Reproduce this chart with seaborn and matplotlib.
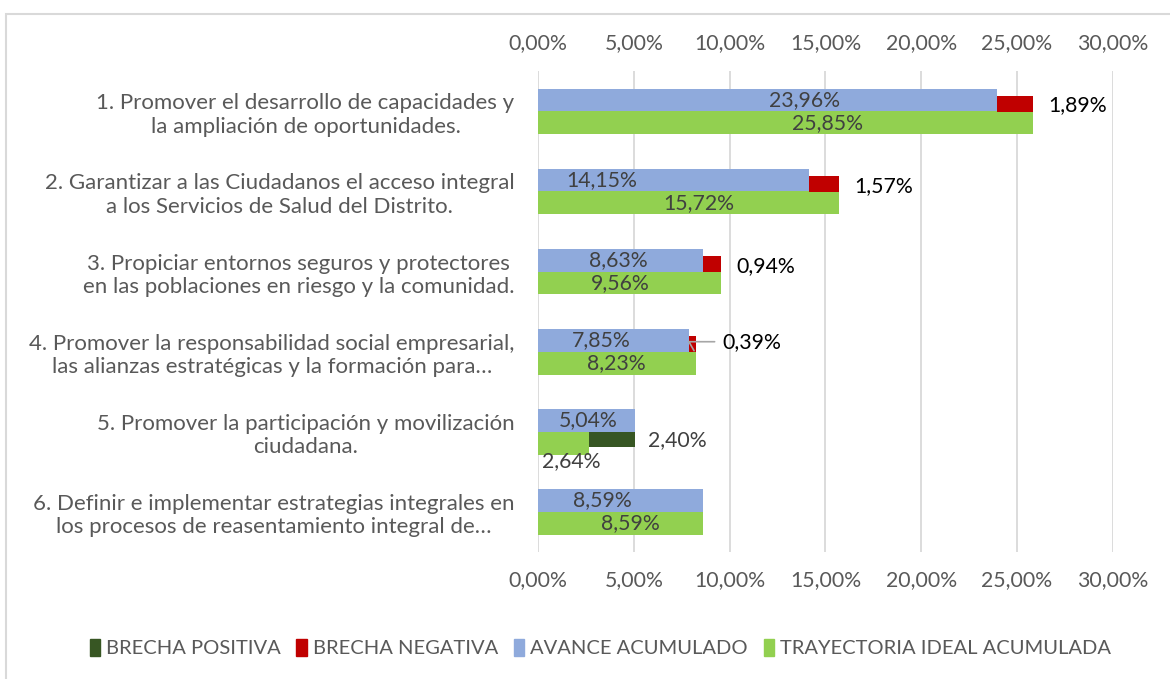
import numpy as np
import pandas as pd
import seaborn as sns
import matplotlib.pyplot as plt
from matplotlib.patches import Patch, Rectangle
from matplotlib.ticker import FuncFormatter, FixedLocator

# %% Data

lst_cat = ['1. Promover el desarrollo de capacidades y\nla ampliación de oportunidades.',
           '2. Garantizar a las Ciudadanos el acceso integral\na los Servicios de Salud del Distrito.',
           '3. Propiciar entornos seguros y protectores\nen las poblaciones en riesgo y la comunidad.',
           '4. Promover la responsabilidad social empresarial,\nlas alianzas estratégicas y la formación para…',
           '5. Promover la participación y movilización\nciudadana.',
           '6. Definir e implementar estrategias integrales en\nlos procesos de reasentamiento integral de…']

# values in percent
lst_avance = [23.96, 14.15, 8.63, 7.85, 5.04, 8.59]
lst_ideal = [25.85, 15.72, 9.56, 8.23, 2.64, 8.59]
lst_brecha_neg = [1.89, 1.57, 0.94, 0.39, 0.0, 0.0]
lst_brecha_pos = [0.0, 0.0, 0.0, 0.0, 2.40, 0.0]

lst_series = ['AVANCE ACUMULADO', 'TRAYECTORIA IDEAL ACUMULADA']

# axis ticks (percent)
lst_ticks = [0, 5, 10, 15, 20, 25, 30]

# label x positions (data units), as placed in the original chart
lst_lbl_avance_x = [13.9, 3.3, 4.2, 3.3, 2.6, 3.35]
lst_lbl_ideal_x = [15.1, 8.4, 4.3, 4.1, 1.7, 4.8]

# %% Style

c_blue = '#8faadc'
c_green = '#92d050'
c_red = '#c00000'
c_dkgreen = '#375623'
c_text = '#595959'
c_lbl = '#404040'
c_grid = '#d9d9d9'

sns.set_style('white')
plt.rcParams['font.family'] = ['Lato', 'DejaVu Sans']
fs = 15.3
fs_cat = 16

# %% Plot

df = pd.DataFrame({'cat': lst_cat * 2,
                   'valor': lst_avance + lst_ideal,
                   'serie': [lst_series[0]] * len(lst_cat) + [lst_series[1]] * len(lst_cat)})

fig = plt.figure(figsize=(11.7, 6.79), dpi=100)
ax = fig.add_axes([0.46, 0.187, 0.491, 0.708])

bar_w = 0.57
sns.barplot(data=df, y='cat', x='valor', hue='serie', hue_order=lst_series,
            palette=[c_blue, c_green], width=bar_w, orient='h', saturation=1,
            errorbar=None, legend=False, ax=ax, zorder=3, linewidth=0)

ary_y = np.arange(len(lst_cat))
y_av = ary_y - bar_w / 4
y_id = ary_y + bar_w / 4

# gaps stacked on the bars
ax.barh(y_av + 0.045, lst_brecha_neg, left=lst_avance, height=0.2,
        color=c_red, linewidth=0, zorder=3)
ax.barh(y_id - 0.045, lst_brecha_pos, left=lst_ideal, height=0.19,
        color=c_dkgreen, linewidth=0, zorder=3)

def fmt(v):
    return f'{v:.2f}'.replace('.', ',') + '%'

# data labels
for i in range(len(lst_cat)):
    ax.text(lst_lbl_avance_x[i], y_av[i], fmt(lst_avance[i]), ha='center',
            va='center', fontsize=fs, color=c_lbl, zorder=4)
    y_lbl = y_id[i] + (0.22 if lst_brecha_pos[i] > 0 else 0)
    ax.text(lst_lbl_ideal_x[i], y_lbl, fmt(lst_ideal[i]), ha='center',
            va='center', fontsize=fs, color=c_lbl, zorder=4)
    if lst_brecha_neg[i] > 0:
        x_end = lst_avance[i] + lst_brecha_neg[i]
        if lst_brecha_neg[i] < 0.5:
            ax.annotate(fmt(lst_brecha_neg[i]), xy=(x_end - 0.1, y_av[i] + 0.13),
                        xytext=(28, 9), textcoords='offset pixels',
                        ha='left', va='center', fontsize=fs, color='black',
                        arrowprops=dict(arrowstyle='-', color='#a6a6a6', lw=1.2,
                                        shrinkA=3, shrinkB=0,
                                        connectionstyle='angle,angleA=180,angleB=120,rad=0'))
        else:
            ax.annotate(fmt(lst_brecha_neg[i]), xy=(x_end, y_av[i] + 0.07),
                        xytext=(15, 0), textcoords='offset pixels',
                        ha='left', va='center', fontsize=fs, color='black')
    if lst_brecha_pos[i] > 0:
        x_end = lst_ideal[i] + lst_brecha_pos[i]
        ax.annotate(fmt(lst_brecha_pos[i]), xy=(x_end, y_id[i] - 0.04),
                    xytext=(13, 0), textcoords='offset pixels',
                    ha='left', va='center', fontsize=fs, color=c_lbl)

# axes
ax.set_xlim(0, 30)
ax.set_ylim(len(lst_cat) - 0.5, -0.5)
pct_fmt = FuncFormatter(lambda v, p: fmt(v))
ax.xaxis.set_major_locator(FixedLocator(lst_ticks))
ax.xaxis.set_major_formatter(pct_fmt)
ax.grid(axis='x', color=c_grid, lw=1.3, zorder=0)
ax.set_axisbelow(True)
for s in ax.spines.values():
    s.set_visible(False)
ax.set_xlabel('')
ax.set_ylabel('')
ax.tick_params(axis='x', length=0, pad=13, labelsize=fs, labelcolor=c_text)
ax.tick_params(axis='y', length=0, pad=17, labelsize=fs_cat, labelcolor=c_text)
for t in ax.get_yticklabels():
    t.set_multialignment('center')

# top axis labels
sec = ax.secondary_xaxis('top')
sec.xaxis.set_major_locator(FixedLocator(lst_ticks))
sec.xaxis.set_major_formatter(pct_fmt)
sec.tick_params(axis='x', length=0, pad=13, labelsize=fs, labelcolor=c_text)
sec.spines['top'].set_visible(False)

# legend
handles = [Patch(color=c_dkgreen), Patch(color=c_red),
           Patch(color=c_blue), Patch(color=c_green)]
labels = ['BRECHA POSITIVA', 'BRECHA NEGATIVA', 'AVANCE ACUMULADO',
          'TRAYECTORIA IDEAL ACUMULADA']
leg = fig.legend(handles, labels, loc='center', bbox_to_anchor=(0.513, 0.045),
                 ncol=4, frameon=False, fontsize=14.5, handlelength=0.5,
                 handleheight=0.85, handletextpad=0.3, columnspacing=0.8)
for t in leg.get_texts():
    t.set_color(c_text)

# chart border (left and top visible)
fig.patches.append(Rectangle((6 / 1170, -0.2), 1.2, 0.2 + 1 - 14 / 679,
                             transform=fig.transFigure, fill=False,
                             edgecolor=c_grid, lw=1.5))

fig.savefig('out.png', dpi=100)
